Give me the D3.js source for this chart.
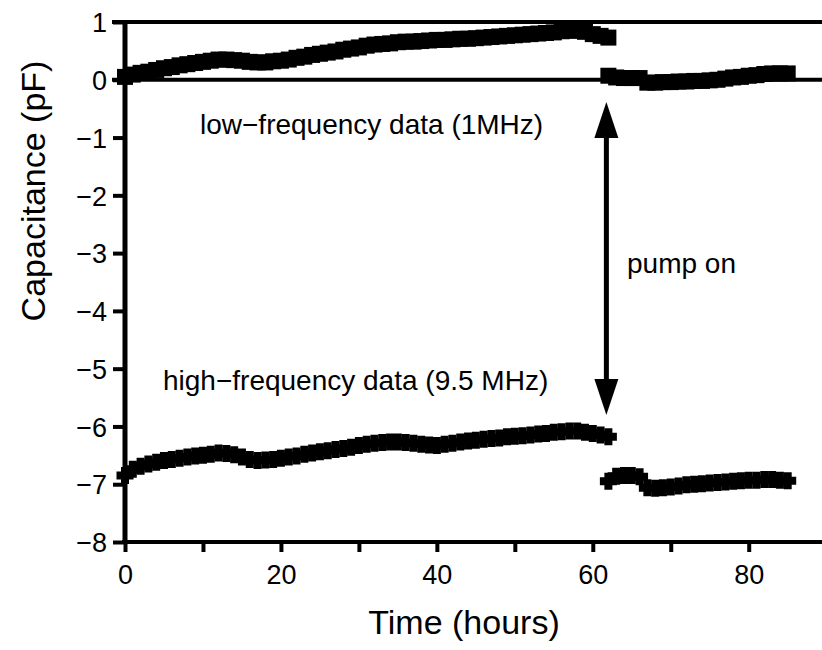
<!DOCTYPE html>
<html>
<head>
<meta charset="utf-8">
<script src="https://cdn.jsdelivr.net/npm/d3@7"></script>
<style>
  html, body { margin: 0; padding: 0; background: #fff; }
  svg { display: block; }
  text { font-family: "Liberation Sans", Arial, sans-serif; fill: #000; }
</style>
</head>
<body>
<svg id="chart" width="822" height="650"></svg>
<script>
// ---------- data ----------
// sampling times (hours)
const timesBefore = d3.range(0, 63);      // 0 .. 62 h, before pump on
const timesAfter  = d3.range(62, 86);     // 62 .. 85 h, after pump on

// low-frequency data (1 MHz), pF
const lowBefore = [0.05,0.09,0.12,0.14,0.17,0.20,0.22,0.25,0.27,0.29,
                   0.31,0.33,0.35,0.35,0.34,0.33,0.31,0.30,0.30,0.32,
                   0.33,0.35,0.38,0.40,0.43,0.45,0.47,0.49,0.52,0.54,
                   0.56,0.59,0.61,0.62,0.63,0.65,0.66,0.66,0.67,0.68,
                   0.69,0.69,0.70,0.71,0.71,0.72,0.73,0.74,0.75,0.76,
                   0.77,0.78,0.79,0.80,0.81,0.82,0.84,0.85,0.85,0.83,
                   0.79,0.76,0.73];
const lowAfter  = [0.07,0.04,0.03,0.03,0.03,-0.05,-0.05,-0.04,-0.04,-0.03,
                   -0.03,-0.02,-0.02,-0.01,0.00,0.02,0.04,0.05,0.07,0.08,
                   0.10,0.11,0.11,0.11];

// high-frequency data (9.5 MHz), pF
const highBefore = [-6.85,-6.74,-6.69,-6.65,-6.62,-6.59,-6.57,-6.55,-6.53,-6.51,
                    -6.50,-6.48,-6.46,-6.47,-6.49,-6.53,-6.57,-6.59,-6.58,-6.57,
                    -6.55,-6.53,-6.51,-6.48,-6.46,-6.44,-6.42,-6.40,-6.38,-6.36,
                    -6.33,-6.31,-6.29,-6.28,-6.27,-6.27,-6.28,-6.29,-6.31,-6.32,
                    -6.33,-6.31,-6.29,-6.27,-6.25,-6.24,-6.22,-6.21,-6.20,-6.18,
                    -6.17,-6.16,-6.15,-6.13,-6.12,-6.10,-6.09,-6.08,-6.08,-6.10,
                    -6.12,-6.15,-6.18];
const highAfter  = [-6.95,-6.86,-6.85,-6.85,-6.87,-7.06,-7.07,-7.06,-7.05,-7.03,
                    -7.01,-7.00,-6.99,-6.98,-6.97,-6.96,-6.95,-6.94,-6.93,-6.93,
                    -6.92,-6.92,-6.93,-6.94];

const xTicks = [0, 10, 20, 30, 40, 50, 60, 70, 80];
const xTickLabels = [0, 20, 40, 60, 80];
const yTicks = [1, 0, -1, -2, -3, -4, -5, -6, -7, -8];

const lowLabel  = "low\u2212frequency data (1MHz)";
const highLabel = "high\u2212frequency data (9.5 MHz)";
const pumpLabel = "pump on";
const xTitle = "Time (hours)";
const yTitle = "Capacitance (pF)";
const pumpTime = 62;

// ---------- layout ----------
const svg = d3.select("#chart");
const x = d3.scaleLinear().domain([0, 89.4]).range([125, 822]);
const y = d3.scaleLinear().domain([-8, 1]).range([542, 22]);

// reference lines at 1 and 0
[1, 0].forEach(v => {
  svg.append("line")
    .attr("x1", 112).attr("x2", 822)
    .attr("y1", y(v)).attr("y2", y(v))
    .attr("stroke", "#000").attr("stroke-width", 4);
});

// left axis
const yAxis = d3.axisLeft(y).tickValues(yTicks).tickSize(12).tickPadding(6)
  .tickFormat(d => d < 0 ? "\u2212" + Math.abs(d) : String(d));
const gy = svg.append("g").attr("transform", `translate(${x(0)},0)`).call(yAxis);
gy.select(".domain").attr("stroke-width", 5).attr("d", `M0,${y(1)-2}V${y(-8)+2}`);
gy.selectAll(".tick line").attr("stroke-width", 4);
gy.selectAll(".tick text").attr("font-size", 27).attr("font-family", "Liberation Sans, Arial, sans-serif")
  .attr("dy", "0.36em");

// bottom axis
const xAxis = d3.axisBottom(x).tickValues(xTicks).tickSize(10).tickPadding(13)
  .tickFormat(d => xTickLabels.includes(d) ? String(d) : "");
const gx = svg.append("g").attr("transform", `translate(0,${y(-8)})`).call(xAxis);
gx.select(".domain").attr("stroke-width", 4).attr("d", `M${x(0)-3},0H822`);
gx.selectAll(".tick line").attr("stroke-width", 4);
gx.selectAll(".tick text").attr("font-size", 27).attr("font-family", "Liberation Sans, Arial, sans-serif");

// ---------- markers ----------
const sq = 16;
function squares(times, vals) {
  svg.append("g").selectAll("rect").data(vals).join("rect")
    .attr("x", (d, i) => x(times[i]) - sq / 2)
    .attr("y", d => y(d) - sq / 2)
    .attr("width", sq).attr("height", sq)
    .attr("fill", "#000");
}
squares(timesBefore, lowBefore);
squares(timesAfter, lowAfter);

const cs = 17, cw = 8;
function crosses(times, vals) {
  const g = svg.append("g");
  g.selectAll("path").data(vals).join("path")
    .attr("d", (d, i) => {
      const cx = x(times[i]), cy = y(d);
      return `M${cx - cs/2},${cy}H${cx + cs/2}M${cx},${cy - cs/2}V${cy + cs/2}`;
    })
    .attr("stroke", "#000").attr("stroke-width", cw).attr("fill", "none");
}
crosses(timesBefore, highBefore);
crosses(timesAfter, highAfter);

// ---------- annotations ----------
svg.append("text").attr("x", 200).attr("y", 134).attr("font-size", 28).text(lowLabel);
svg.append("text").attr("x", 163).attr("y", 390).attr("font-size", 28).text(highLabel);
svg.append("text").attr("x", 627).attr("y", 273).attr("font-size", 28).text(pumpLabel);

// double arrow (pump on)
const ax = x(pumpTime) - 2;
const topTip = 102, botTip = 415, headH = 36, headW = 24;
svg.append("line").attr("x1", ax).attr("x2", ax)
  .attr("y1", topTip + headH - 2).attr("y2", botTip - headH + 2)
  .attr("stroke", "#000").attr("stroke-width", 5);
svg.append("path")
  .attr("d", `M${ax},${topTip}L${ax - headW/2},${topTip + headH}L${ax + headW/2},${topTip + headH}Z`)
  .attr("fill", "#000");
svg.append("path")
  .attr("d", `M${ax},${botTip}L${ax - headW/2},${botTip - headH}L${ax + headW/2},${botTip - headH}Z`)
  .attr("fill", "#000");

// ---------- axis titles ----------
svg.append("text").attr("x", 464).attr("y", 634).attr("text-anchor", "middle")
  .attr("font-size", 34).text(xTitle);
svg.append("text").attr("transform", `translate(45,191) rotate(-90)`)
  .attr("text-anchor", "middle").attr("font-size", 34).text(yTitle);
</script>
</body>
</html>
